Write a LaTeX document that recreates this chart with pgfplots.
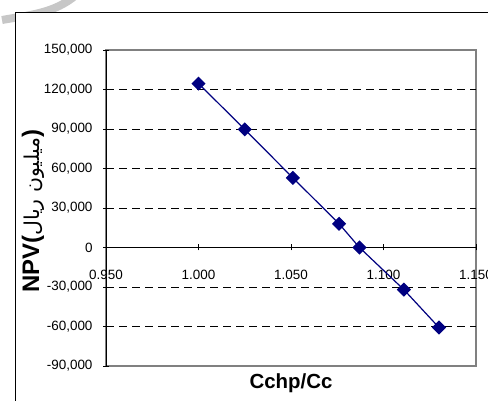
\documentclass[border=0pt]{standalone}
\usepackage{pgfplots}
\pgfplotsset{compat=1.18}
\usepackage{fontspec}
\setmainfont{Liberation Sans}
\newfontfamily\arabicfont[Script=Arabic]{DejaVu Sans}
\TeXXeTstate=1
\definecolor{navy}{RGB}{0,0,128}
\begin{document}
\begin{tikzpicture}
\path[use as bounding box] (0bp,0bp) rectangle (488bp,401bp);
\draw[line width=8bp, black!22] (2bp,381bp) .. controls (30bp,386bp) and (55bp,388bp) .. (76bp,406bp);
\fill[white] (15bp,-5bp) rectangle (495bp,389bp);
\draw[black, line width=0.9bp] (15bp,-5bp) -- (15bp,389bp) -- (495bp,389bp);
\begin{axis}[
  at={(106bp,35bp)}, anchor=south west,
  scale only axis, width=370bp, height=316bp,
  xmin=0.95, xmax=1.15, ymin=-90000, ymax=150000,
  xtick={0.95,1,1.05,1.1,1.15},
  ytick={-90000,-60000,-30000,0,30000,60000,90000,120000,150000},
  axis background/.style={draw=black!50, line width=1.2bp},
  axis x line=middle, axis y line=left,
  axis line style={-, black, line width=0.8bp},
  hide obscured x ticks=false, hide obscured y ticks=false,
  tick align=center, major tick length=6bp,
  tick style={black, line width=0.8bp},
  scaled y ticks=false, scaled x ticks=false,
  /pgf/number format/assume math mode=true,
  yticklabel style={xshift=-7bp, /pgf/number format/1000 sep={,}, /pgf/number format/fixed},
  xticklabel style={yshift=-16bp, /pgf/number format/fixed, /pgf/number format/fixed zerofill, /pgf/number format/precision=3},
  ticklabel style={font=\fontsize{13.5}{15}\selectfont},
  extra y ticks={-60000,-30000,30000,60000,90000,120000},
  extra y tick labels={},
  extra y tick style={grid=major, major tick length=0pt},
  major grid style={black, line width=0.6bp, dash pattern=on 8bp off 5bp},
]
\addplot[navy, line width=1.2bp, mark=square*, mark size=4.4bp, mark options={rotate=45, fill=navy, solid}] coordinates {
(1.000,124500) (1.025,89700) (1.051,52900) (1.076,18000) (1.087,0) (1.111,-32000) (1.130,-60800)};
\end{axis}
\node[font=\bfseries\fontsize{20.5}{24}\selectfont] at (291bp,18bp) {Cchp/Cc};
\node[rotate=90, font=\bfseries\fontsize{24}{28}\selectfont] at (33bp,190bp) {NPV({\mdseries\arabicfont\fontsize{20.5}{24}\selectfont\beginR میلیون ریال\endR})};
\end{tikzpicture}
\end{document}
